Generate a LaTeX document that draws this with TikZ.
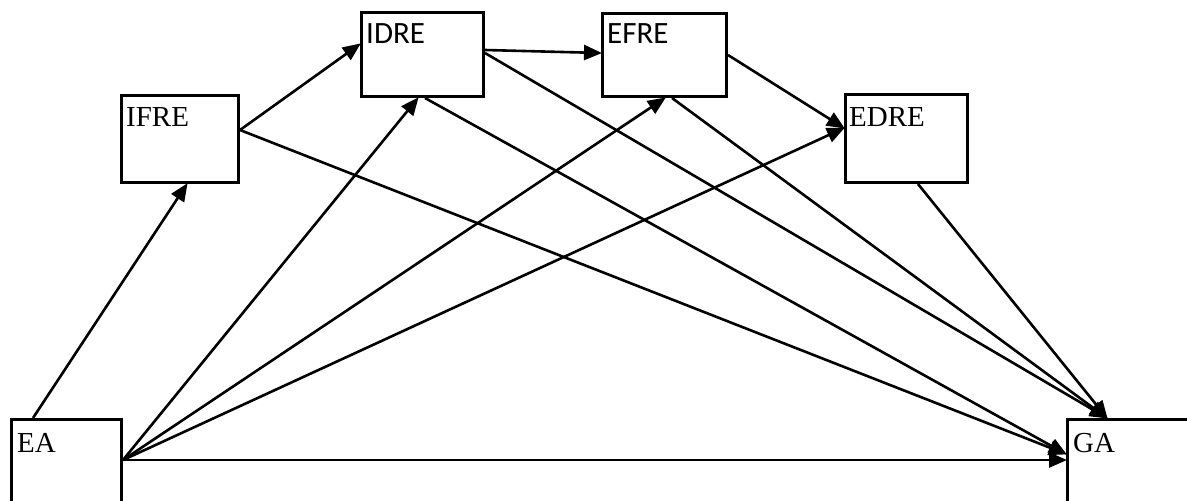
\documentclass[tikz,border=0pt]{standalone}
\usepackage{fontspec}
\setmainfont{Liberation Serif}
\newfontfamily\calfont{Carlito}
\usetikzlibrary{arrows.meta,calc}
\tikzset{
  box/.style={draw, line width=3pt, inner sep=0pt, anchor=north west},
  lbl/.style={anchor=base west, inner sep=0pt, font=\fontsize{29}{29}\selectfont},
  slbl/.style={anchor=base west, inner sep=0pt, font=\calfont\fontsize{31}{31}\selectfont},
  link/.style={line width=2.6pt, -{Triangle[length=18pt,width=15pt]}, shorten >=-1pt}
}
\begin{document}
\begin{tikzpicture}[x=1pt,y=-1pt]
\useasboundingbox (0,0) rectangle (1187,501);
\fill[white] (0,0) rectangle (1187,501);
% boxes
\node[box, minimum width=110pt, minimum height=112pt] (EA) at (10,418) {};
\node[box, minimum width=117pt, minimum height=87pt] (IFRE) at (120,94) {};
\node[box, minimum width=122pt, minimum height=84pt] (IDRE) at (360,11) {};
\node[box, minimum width=124pt, minimum height=83pt] (EFRE) at (601,12) {};
\node[box, minimum width=122pt, minimum height=88pt] (EDRE) at (844,93) {};
\node[box, minimum width=134pt, minimum height=112pt] (GA) at (1066,418) {};
% labels
\node[lbl] (EAt) at ($(EA.north west)+(7,34)$) {EA};
\node[lbl] (IFREt) at ($(IFRE.north west)+(6,32)$) {IFRE};
\node[slbl] (IDREt) at ($(IDRE.north west)+(6,32)$) {IDRE};
\node[slbl] (EFREt) at ($(EFRE.north west)+(6,31)$) {EFRE};
\node[lbl] (EDREt) at ($(EDRE.north west)+(5,33)$) {EDRE};
\node[lbl] (GAt) at ($(GA.north west)+(7,34)$) {GA};
% connection points on the box borders
\coordinate (EAtop) at ($(EA.north west)+(23,0)$);
\coordinate (EAr) at ($(EA.north east)+(0,42)$);
\coordinate (IFREb) at ($(IFRE.south west)+(67,0)$);
\coordinate (IFREr) at ($(IFRE.north east)+(0,36)$);
\coordinate (IDREl) at ($(IDRE.north west)+(0,33)$);
\coordinate (IDRErin) at ($(IDRE.north east)+(0,39)$);
\coordinate (IDRErout) at ($(IDRE.north east)+(0,42)$);
\coordinate (IDREbin) at ($(IDRE.south west)+(58,0)$);
\coordinate (IDREbout) at ($(IDRE.south west)+(65,0)$);
\coordinate (EFREl) at ($(EFRE.north west)+(0,41)$);
\coordinate (EFREr) at ($(EFRE.north east)+(0,43)$);
\coordinate (EFREbin) at ($(EFRE.south west)+(64,0)$);
\coordinate (EFREbout) at ($(EFRE.south west)+(71,0)$);
\coordinate (EDREl) at ($(EDRE.north west)+(0,35)$);
\coordinate (EDREb) at ($(EDRE.south west)+(74,0)$);
\coordinate (GAl) at ($(GA.north west)+(0,42)$);
\coordinate (GAlu) at ($(GA.north west)+(0,36)$);
\coordinate (GAtop) at ($(GA.north west)+(41,0)$);
% connectors
\draw[link] (EAtop) -- (IFREb);
\draw[link] (EAr) -- (IDREbin);
\draw[link] (EAr) -- (EFREbin);
\draw[link] (EAr) -- (EDREl);
\draw[link] (EAr) -- (GAl);
\draw[link] (IFREr) -- (IDREl);
\draw[link] (IFREr) -- (GAlu);
\draw[link] (IDRErin) -- (EFREl);
\draw[link] (IDRErout) -- (GAtop);
\draw[link] (IDREbout) -- (GAlu);
\draw[link] (EFREr) -- (EDREl);
\draw[link] (EFREbout) -- (GAtop);
\draw[link] (EDREb) -- (GAtop);
\end{tikzpicture}
\end{document}
